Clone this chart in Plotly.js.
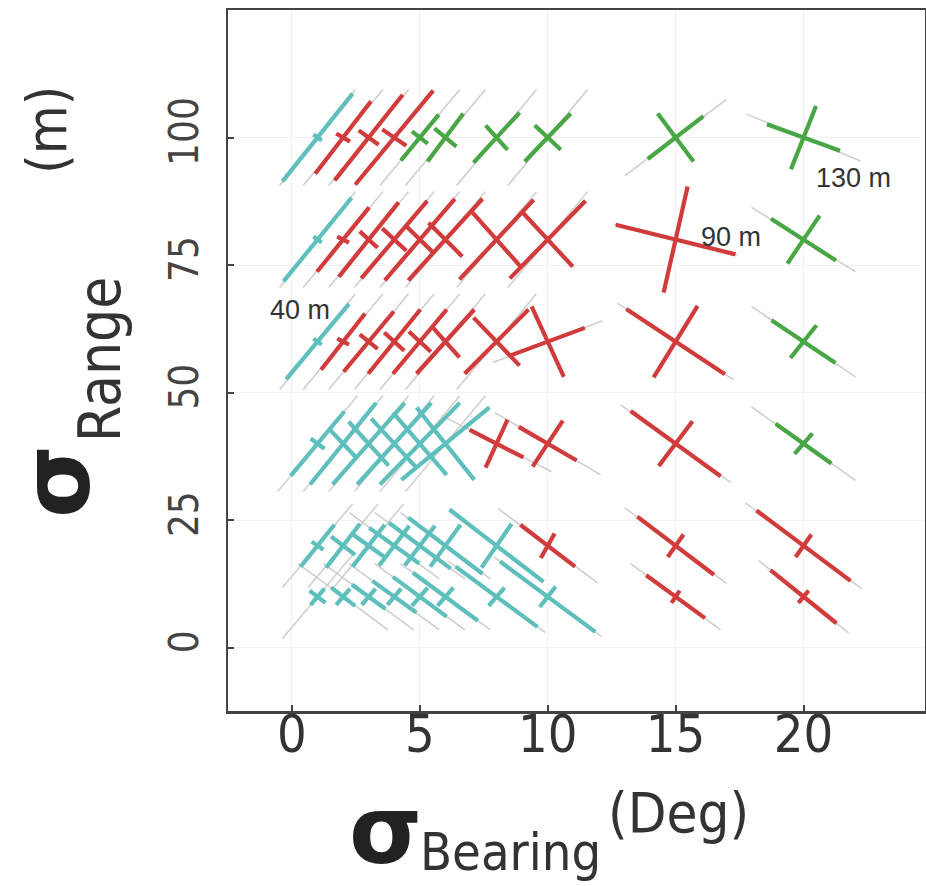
<!DOCTYPE html>
<html>
<head>
<meta charset="utf-8">
<script src="https://cdn.plot.ly/plotly-3.0.1.min.js"></script>
<style>html,body{margin:0;padding:0;background:#fff;}#chart{width:926px;height:886px;}</style>
</head>
<body>
<div id="chart"></div>
<script>
// Grid of simulated conditions: bearing error (deg) x range error (m)
const bearing = [1,2,3,4,5,6,8,10,15,20, 1,2,3,4,5,6,8,10,15,20, 1,2,3,4,5,6,8,10,15,20,
                 1,2,3,4,5,6,8,10,15,20, 1,2,3,4,5,6,8,10,15,20, 1,2,3,4,5,6,8,10,15,20];
const rangeM  = [100,100,100,100,100,100,100,100,100,100, 80,80,80,80,80,80,80,80,80,80,
                 60,60,60,60,60,60,60,60,60,60, 40,40,40,40,40,40,40,40,40,40,
                 20,20,20,20,20,20,20,20,20,20, 10,10,10,10,10,10,10,10,10,10];
// error class of each cross
const errClass = ["40 m","90 m","90 m","90 m","130 m","130 m","130 m","130 m","130 m","130 m",
                  "40 m","90 m","90 m","90 m","90 m","90 m","90 m","90 m","90 m","130 m",
                  "40 m","90 m","90 m","90 m","90 m","90 m","90 m","90 m","90 m","130 m",
                  "40 m","40 m","40 m","40 m","40 m","40 m","90 m","90 m","90 m","130 m",
                  "40 m","40 m","40 m","40 m","40 m","40 m","40 m","90 m","90 m","90 m",
                  "40 m","40 m","40 m","40 m","40 m","40 m","40 m","40 m","90 m","90 m"];
// half-axis A of each cross (bearing deg, range m)
const axisA_dB = [1.37,1.09,1.33,1.52,0.74,0.70,0.90,0.90,1.09,1.43,
                  1.33,1.02,1.17,1.29,1.37,1.45,1.45,1.48,2.34,1.27,
                  1.23,0.86,0.98,1.02,1.05,1.13,1.25,1.45,1.93,1.25,
                  1.05,1.29,1.41,1.45,1.56,1.72,1.05,1.13,1.76,1.09,
                  0.66,0.66,0.63,0.59,0.59,0.59,0.59,1.07,1.50,1.84,
                  0.31,0.47,0.66,0.86,1.05,1.27,1.60,1.86,1.15,1.29];
const axisA_dR = [8.6,7.1,8.4,9.2,4.5,4.7,4.9,4.7,4.2,-2.6,
                  8.2,6.3,7.3,7.6,8.0,8.0,7.8,7.6,-2.9,-4.1,
                  7.4,5.5,5.9,6.3,6.3,6.3,6.3,2.7,-6.4,-4.2,
                  6.3,8.0,8.0,8.0,8.0,7.1,-2.7,-3.3,-6.4,-3.9,
                  4.1,4.3,4.1,3.9,3.9,4.1,4.3,-4.1,-5.7,-6.9,
                  -1.2,-1.8,-2.4,-3.1,-3.9,-4.7,-5.9,-6.9,-4.2,-5.2];
// half-axis B of each cross
const axisB_dB = [0.16,0.27,0.39,0.47,0.31,0.43,0.43,0.51,0.70,0.49,
                  0.16,0.23,0.35,0.47,0.51,0.66,0.94,0.98,0.47,0.63,
                  0.16,0.23,0.35,0.39,0.43,0.55,0.90,0.63,0.86,0.51,
                  0.27,0.51,0.78,0.90,1.05,1.13,0.43,0.59,0.66,0.35,
                  0.23,0.47,0.70,0.98,1.21,1.45,1.84,0.27,0.31,0.31,
                  0.27,0.27,0.27,0.27,0.31,0.31,0.31,0.31,0.16,0.20];
const axisB_dR = [-0.6,-0.8,-1.4,-1.6,-1.2,-1.8,-2.4,-2.4,-4.7,6.2,
                  -0.6,-0.6,-1.6,-2.2,-2.5,-3.3,-5.3,-5.3,10.4,4.7,
                  -0.6,-0.6,-1.4,-1.8,-2.0,-3.1,-4.7,-6.9,7.0,3.2,
                  -1.0,-2.7,-4.3,-4.9,-6.1,-7.1,4.7,4.5,4.4,2.0,
                  -0.8,-1.8,-2.5,-3.5,-4.5,-5.5,-7.1,2.4,2.2,2.2,
                  1.6,1.6,1.6,1.6,1.8,1.8,1.8,2.0,1.2,1.2];
// reference orientation line (grey) half-extent
const ref_dB = [1.48,1.56,1.56,1.56,1.56,1.56,1.56,1.56,1.99,2.23,
                1.48,1.56,1.56,1.56,1.56,1.56,1.56,1.56,2.42,2.03,
                1.48,1.56,1.56,1.56,1.56,1.56,1.56,2.15,2.27,2.03,
                1.56,1.56,1.56,1.56,1.56,1.56,2.15,2.07,2.15,2.03,
                1.37,1.37,1.37,1.76,1.76,1.76,1.76,1.95,1.99,2.27,
                1.37,1.76,1.76,1.76,1.76,1.76,1.90,2.10,1.76,1.76];
const ref_dR = [9.4,9.4,9.4,9.4,9.4,9.4,9.4,9.4,7.5,-4.6,
                9.4,9.4,9.4,9.4,9.4,9.4,9.4,9.4,-3.0,-6.3,
                9.4,9.4,9.4,9.4,9.4,9.4,9.4,4.1,-7.5,-6.9,
                9.4,9.4,9.4,9.4,9.4,9.4,-5.5,-6.1,-7.6,-7.2,
                8.2,8.2,8.2,-6.5,-6.5,-6.5,-6.5,-7.3,-7.4,-8.4,
                8.2,-6.5,-6.5,-6.5,-6.5,-6.5,-7.0,-7.8,-6.5,-7.1];

const classNames = ["40 m","90 m","130 m"];
const classColors = {"40 m":"#5fbfbd","90 m":"#d23b3b","130 m":"#48a744"};

function segs(idx, dB, dR){
  const x=[], y=[];
  idx.forEach(i=>{
    x.push(bearing[i]-dB[i], bearing[i]+dB[i], null);
    y.push(rangeM[i]-dR[i], rangeM[i]+dR[i], null);
  });
  return {x,y};
}
const all = bearing.map((_,i)=>i);
const traces = [];
const g = segs(all, ref_dB, ref_dR);
traces.push({type:'scatter',mode:'lines',x:g.x,y:g.y,line:{color:'#cdcdcd',width:1.5},hoverinfo:'skip',showlegend:false});
classNames.forEach(c=>{
  const idx = all.filter(i=>errClass[i]===c);
  const a = segs(idx, axisA_dB, axisA_dR);
  const b = segs(idx, axisB_dB, axisB_dR);
  traces.push({type:'scatter',mode:'lines',name:c,
    x:a.x.concat(b.x), y:a.y.concat(b.y),
    line:{color:classColors[c],width:4.2}, showlegend:false});
});

const W=926,H=886,L=228,R=1,T=10,B=175;
const pw=W-L-R, ph=H-T-B;
const px=v=>(v-L)/pw, py=v=>(H-B-v)/ph;
const tf="'Liberation Sans Narrow','DejaVu Sans Condensed','Liberation Sans',sans-serif";
const lf="'Liberation Sans','Arial',sans-serif";
const ann=(x,y,text,size,extra)=>Object.assign({xref:'paper',yref:'paper',x:px(x),y:py(y),text:text,showarrow:false,
  xanchor:'center',yanchor:'middle',font:{family:tf,size:size,color:'#333'}},extra||{});
const sig={family:"'DejaVu Sans',sans-serif",size:94,color:'#222'};

const layout={
  width:W,height:H,margin:{l:L,r:R,t:T,b:B},
  paper_bgcolor:'#fff',plot_bgcolor:'#fff',showlegend:false,
  xaxis:{range:[-2.5,24.75],tickvals:[0,5,10,15,20],ticks:'inside',ticklen:6,tickwidth:2,tickcolor:'#444',
    showline:true,linewidth:2.5,linecolor:'#444',mirror:true,showgrid:true,gridcolor:'#f1f1f1',zeroline:false,
    tickfont:{family:tf,size:52,color:'#333'},ticklabelstandoff:-24},
  yaxis:{range:[-12.4,125],tickvals:[0,25,50,75,100],ticks:'inside',ticklen:6,tickwidth:2,tickcolor:'#444',
    showline:true,linewidth:2.5,linecolor:'#444',mirror:true,showgrid:true,gridcolor:'#f1f1f1',zeroline:false,
    tickangle:-90,tickfont:{family:tf,size:40,color:'#444'},ticklabelstandoff:12},
  annotations:[
    ann(385,830,'<b>σ</b>',94,{font:sig}),
    ann(510,852,'Bearing',52),
    ann(678,812,'(Deg)',56),
    ann(56,482,'<b>σ</b>',94,{textangle:-90,font:sig}),
    ann(100,360,'Range',58,{textangle:-90}),
    ann(46,130,'(m)',56,{textangle:-90}),
    ann(300,310,'40 m',27,{font:{family:lf,size:27,color:'#333'}}),
    ann(731,237,'90 m',27,{font:{family:lf,size:27,color:'#333'}}),
    ann(853,178,'130 m',27,{font:{family:lf,size:27,color:'#333'}})
  ]
};
Plotly.newPlot('chart',traces,layout,{displayModeBar:false,staticPlot:true});
</script>
</body>
</html>
